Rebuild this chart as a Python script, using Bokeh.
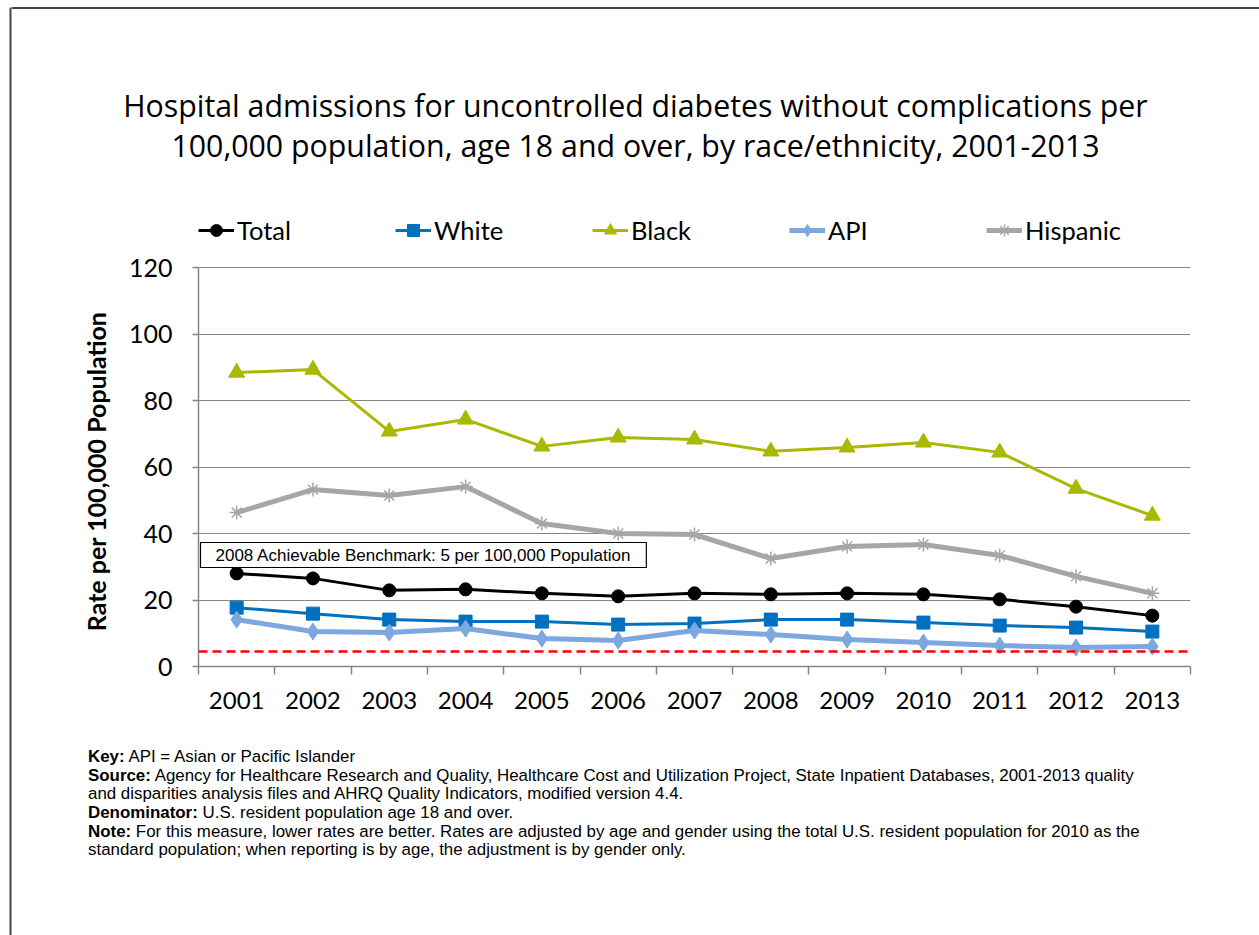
from bokeh.plotting import figure
from bokeh.layouts import row, column
from bokeh.models import (Range1d, FixedTicker, Label, Legend, LegendItem, Span,
                          BoxAnnotation, Div)
from bokeh.embed import file_html
from bokeh.resources import INLINE

years = [2001, 2002, 2003, 2004, 2005, 2006, 2007, 2008, 2009, 2010, 2011, 2012, 2013]
total = [28.0, 26.5, 22.9, 23.2, 22.0, 21.1, 22.0, 21.7, 22.0, 21.7, 20.2, 18.0, 15.3]
white = [17.7, 15.9, 14.1, 13.5, 13.5, 12.6, 12.9, 14.1, 14.1, 13.2, 12.3, 11.7, 10.5]
black = [88.4, 89.3, 70.7, 74.3, 66.2, 68.9, 68.3, 64.7, 65.9, 67.4, 64.4, 53.5, 45.4]
api = [14.1, 10.5, 10.2, 11.4, 8.4, 7.8, 10.8, 9.6, 8.1, 7.2, 6.3, 5.7, 6.0]
hispanic = [46.3, 53.2, 51.4, 54.1, 43.0, 40.0, 39.7, 32.5, 36.1, 36.7, 33.4, 27.1, 22.0]
benchmark = 4.5
y_ticks = [0, 20, 40, 60, 80, 100, 120]
y_max = 120

title_lines = ["Hospital admissions for uncontrolled diabetes without complications per",
               "100,000 population, age 18 and over, by race/ethnicity, 2001-2013"]
benchmark_text = "2008 Achievable Benchmark: 5 per 100,000 Population"
y_title = "Rate per 100,000 Population"
notes = [
    ("Key:", "API = Asian or Pacific Islander"),
    ("Source:", "Agency for Healthcare Research and Quality, Healthcare Cost and Utilization Project, State Inpatient Databases, 2001-2013 quality"),
    ("", "and disparities analysis files and AHRQ Quality Indicators, modified version 4.4."),
    ("Denominator:", "U.S. resident population age 18 and over."),
    ("Note:", "For this measure, lower rates are better. Rates are adjusted by age and gender using the total U.S. resident population for 2010 as the"),
    ("", "standard population; when reporting is by age, the adjustment is by gender only."),
]

FONT = "Lato"
W, H = 1259, 935
STRIP = 12
TOP_H = 175
MAIN_H = 560
BOT_H = H - TOP_H - MAIN_H
CW = W - STRIP

# page-pixel layout of the plotting area
AX_LEFT, AX_RIGHT, AX_TOP, AX_BOTTOM = 198, 1190, 267, 666
LEG_TOP = 215  # legend strip sits inside the (extended) frame, above the 120 line

series = [
    ("Total", total, "#000000", 3, "circle", 13),
    ("White", white, "#0070C0", 3, "square", 13),
    ("Black", black, "#A9B800", 3, "triangle", 16),
    ("API", api, "#7CA7DF", 5, "diamond", 17),
    ("Hispanic", hispanic, "#A6A6A6", 5, "asterisk", 14),
]

# ---------------- left strip (outer frame edge) ----------------
strip = figure(width=STRIP, height=H, output_backend="svg", toolbar_location=None,
               x_axis_type=None, y_axis_type=None, min_border=0,
               x_range=Range1d(0, STRIP), y_range=Range1d(H, 0))
strip.outline_line_color = None
strip.xgrid.visible = False
strip.ygrid.visible = False
strip.add_layout(BoxAnnotation(left=9, right=11, top=7, bottom=H, fill_color="#444444",
                               fill_alpha=1, line_color=None))

# ---------------- title (HTML) ----------------
title_html = (
    f'<div style="position:relative;width:{CW}px;height:{TOP_H}px;">'
    f'<div style="position:absolute;left:0px;top:7px;width:{CW}px;height:2px;background:#444444;"></div>'
    f'<div style="position:absolute;left:0px;top:86px;width:{CW}px;text-align:center;'
    "font-family:'Open Sans';font-size:30.3px;line-height:40px;color:#000;white-space:nowrap;\">"
    + "<br>".join(title_lines) + "</div></div>"
)
title_div = Div(text=title_html, width=CW, height=TOP_H, margin=0)

# ---------------- main chart ----------------
xs = list(range(1, len(years) + 1))
y_top = y_max * (AX_BOTTOM - LEG_TOP) / (AX_BOTTOM - AX_TOP)
p = figure(width=CW, height=MAIN_H, output_backend="svg", toolbar_location=None,
           x_range=Range1d(0.5, len(years) + 0.5), y_range=Range1d(0, y_top),
           min_border_left=AX_LEFT - STRIP, min_border_right=W - AX_RIGHT,
           min_border_top=LEG_TOP - TOP_H, min_border_bottom=TOP_H + MAIN_H - AX_BOTTOM)
p.outline_line_color = None
p.background_fill_color = "white"
p.border_fill_color = "white"

p.xaxis.ticker = FixedTicker(ticks=xs, minor_ticks=[x - 0.5 for x in xs] + [xs[-1] + 0.5])
p.xaxis.major_label_overrides = {x: str(y) for x, y in zip(xs, years)}
p.xaxis.major_tick_out = 0
p.xaxis.major_tick_in = 0
p.xaxis.minor_tick_out = 8
p.xaxis.minor_tick_in = 0
p.xaxis.minor_tick_line_color = "#868686"
p.xaxis.minor_tick_line_width = 1.5
p.xaxis.axis_line_color = "#868686"
p.xaxis.axis_line_width = 1.5
p.xaxis.major_label_text_font = FONT
p.xaxis.major_label_text_font_size = "24px"
p.xaxis.major_label_text_color = "black"
p.xaxis.major_label_standoff = 17

p.yaxis.ticker = FixedTicker(ticks=y_ticks)
p.yaxis.bounds = (0, y_max)
p.yaxis.major_tick_out = 6
p.yaxis.major_tick_in = 0
p.yaxis.minor_tick_line_color = None
p.yaxis.major_tick_line_color = "#868686"
p.yaxis.major_tick_line_width = 1.5
p.yaxis.axis_line_color = "#868686"
p.yaxis.axis_line_width = 1.5
p.yaxis.major_label_text_font = FONT
p.yaxis.major_label_text_font_size = "25px"
p.yaxis.major_label_text_color = "black"
p.yaxis.major_label_standoff = 20
# trailing no-break spaces keep the (frame-centred) label centred on the 0-120 axis
p.yaxis.axis_label = y_title + "\u00a0" * 10
p.yaxis.axis_label_text_font = FONT
p.yaxis.axis_label_text_font_size = "25px"
p.yaxis.axis_label_text_font_style = "bold"
p.yaxis.axis_label_text_color = "black"
p.yaxis.axis_label_standoff = 15

p.xgrid.grid_line_color = None
p.ygrid.grid_line_color = "#868686"
p.ygrid.grid_line_width = 1.2

p.add_layout(Span(location=benchmark, dimension="width", line_color="#FF0000",
                  line_width=2.5, line_dash="9 5"))

items = []
for (name, vals, color, lw, marker, size) in series:
    ln = p.line(xs, vals, line_color=color, line_width=lw)
    if marker == "asterisk":
        sc = p.scatter(xs, vals, marker=marker, size=size, line_color=color, line_width=1.5)
    else:
        sc = p.scatter(xs, vals, marker=marker, size=size, fill_color=color, line_color=color)
    items.append(LegendItem(label=name, renderers=[ln, sc]))

leg = Legend(items=items, location=(0, AX_BOTTOM - 245), orientation="horizontal",
             padding=0, margin=0, spacing=0, label_width=158,
             border_line_color=None, background_fill_alpha=0,
             glyph_width=36, glyph_height=30, label_height=30, label_standoff=3,
             label_text_font=FONT, label_text_font_size="25.5px", label_text_color="black")
p.add_layout(leg, "center")

p.add_layout(Label(x=2, y=AX_BOTTOM - 554.5, x_units="screen", y_units="screen",
                   text=benchmark_text, text_font="Liberation Sans", text_font_size="17px",
                   text_baseline="middle", text_align="left", text_color="black",
                   border_line_color="black", border_line_width=1.2,
                   background_fill_color="white", padding=(15, 3)))

# ---------------- footnotes (HTML) ----------------
note_lines = []
for b, t in notes:
    note_lines.append((f"<b>{b}</b> " if b else "") + t)
notes_html = (
    f'<div style="position:relative;width:{CW}px;height:{BOT_H}px;">'
    f'<div style="position:absolute;left:{88 - STRIP}px;top:{757.5 - 9.3 - (TOP_H + MAIN_H):.1f}px;'
    "font-family:'Liberation Sans';font-size:16.9px;line-height:18.6px;color:#000;white-space:nowrap;\">"
    + "<br>".join(note_lines) + "</div></div>"
)
notes_div = Div(text=notes_html, width=CW, height=BOT_H, margin=0)

layout = row(strip, column(title_div, p, notes_div))
open("out.html", "w").write(file_html(layout, INLINE))
